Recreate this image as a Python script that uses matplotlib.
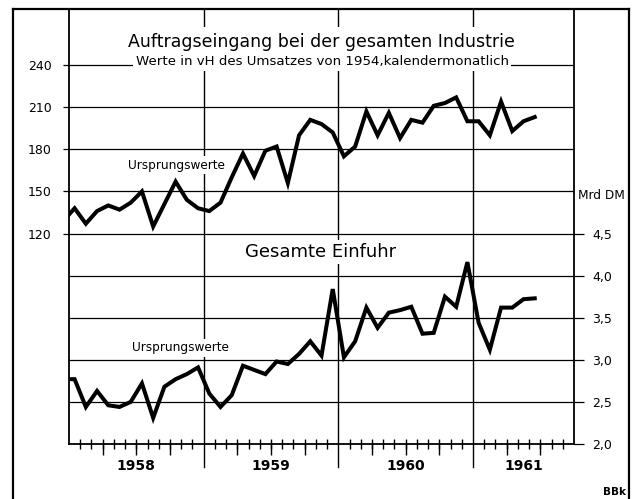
import matplotlib
matplotlib.use("Agg")
import matplotlib.pyplot as plt
from matplotlib.lines import Line2D
import matplotlib.transforms as mtransforms
import numpy as np

# monthly values Dec 1957 .. Jun 1961 (first value only shows as a stub at the axis)
auftrag = [129,
           138, 127, 136, 140, 137, 142, 150, 125, 141, 157, 144, 138,
           136, 142, 160, 177, 161, 179, 182, 156, 190, 201, 198, 192,
           175, 182, 207, 190, 206, 188, 201, 199, 211, 213, 217, 200,
           200, 190, 214, 193, 200, 203]
einfuhr = [2.77,
           2.77, 2.44, 2.63, 2.46, 2.44, 2.50, 2.72, 2.31, 2.68, 2.77, 2.83, 2.91,
           2.60, 2.44, 2.58, 2.93, 2.88, 2.83, 2.98, 2.95, 3.07, 3.22, 3.05, 3.84,
           3.03, 3.22, 3.62, 3.38, 3.56, 3.59, 3.63, 3.31, 3.32, 3.75, 3.63, 4.16,
           3.44, 3.12, 3.62, 3.62, 3.72, 3.73]
years = ["1958", "1959", "1960", "1961"]
left_ticks = [120, 150, 180, 210, 240]
right_ticks = [2.0, 2.5, 3.0, 3.5, 4.0, 4.5]
n_months = 45  # Jan 1958 .. Sep 1961

W, H = 637, 499
plt.rcParams["font.family"] = ["DejaVu Sans"]
fig = plt.figure(figsize=(W / 100, H / 100), dpi=100)


def fx(x):
    return x / W


def fy(y):
    return 1 - y / H


ax = fig.add_axes([fx(69), fy(444), (574 - 69) / W, (444 - 9) / H])
ax2 = ax.twinx()

ax.set_xlim(0, n_months)
ax.set_ylim(-30, 280)
ax2.set_ylim(2.0, 2.0 + 310 / 60)

# grid
for v in left_ticks:
    ax.axhline(v, color="black", lw=0.9, zorder=1)
for v in right_ticks[1:-1]:
    ax2.axhline(v, color="black", lw=0.9, zorder=1)
for i in range(1, len(years)):
    ax.axvline(12 * i, ymin=-23 / 435, ymax=1, color="black", lw=1.0,
               clip_on=False, zorder=1)

# series, plotted at mid-month
x = np.arange(len(auftrag)) - 0.5
ax.plot(x, auftrag, color="black", lw=2.9, solid_joinstyle="miter", zorder=3)
x2 = np.arange(len(einfuhr)) - 0.5
ax2.plot(x2, einfuhr, color="black", lw=2.9, solid_joinstyle="miter", zorder=3)

# axes styling
for s in ax2.spines.values():
    s.set_visible(False)
for s in ax.spines.values():
    s.set_linewidth(1.3)

ax.set_yticks(left_ticks)
ax.set_yticklabels([str(v) for v in left_ticks])
ax.tick_params(axis="y", direction="out", length=4.5, width=0.9, pad=8,
               labelsize=9)

ax2.set_yticks(right_ticks)
ax2.set_yticklabels([f"{v:.1f}".replace(".", ",") for v in right_ticks])
ax2.tick_params(axis="y", direction="out", length=7, width=0.9, pad=6,
                labelsize=9)

month_ticks = [m for m in range(1, n_months) if m % 12 != 0]
quarter_ticks = [m for m in month_ticks if m % 3 == 0]
ax.xaxis.remove_overlapping_locs = False
ax.set_xticks(quarter_ticks)
ax.set_xticklabels([])
ax.set_xticks(month_ticks, minor=True)
ax.tick_params(axis="x", which="major", direction="out", length=8, width=1.0)
ax.tick_params(axis="x", which="minor", direction="inout", length=6.5,
               width=1.0)

trans = mtransforms.blended_transform_factory(ax.transData, ax.transAxes)
for i, yr in enumerate(years):
    end = min(12 * (i + 1), n_months)
    ax.text((12 * i + end) / 2, -22 / 435, yr, transform=trans, ha="center",
            va="center", fontsize=10, fontweight="bold")

# outer frame
fig.add_artist(Line2D([fx(13), fx(13)], [0, fy(9)], color="black", lw=1.6))
fig.add_artist(Line2D([fx(629), fx(629)], [0, fy(9)], color="black", lw=1.6))
fig.add_artist(Line2D([fx(13), fx(629)], [fy(9), fy(9)], color="black", lw=1.6))

box = dict(facecolor="white", edgecolor="none", pad=2)
fig.text(fx(321), fy(42), "Auftragseingang bei der gesamten Industrie",
         ha="center", va="center", fontsize=12.5, bbox=dict(box, pad=4))
fig.text(fx(322), fy(62), "Werte in vH des Umsatzes von 1954,kalendermonatlich",
         ha="center", va="center", fontsize=9.6, bbox=box)
fig.text(fx(176), fy(165), "Ursprungswerte", ha="center", va="center",
         fontsize=8.7, bbox=box)
fig.text(fx(321), fy(252), "Gesamte Einfuhr", ha="center", va="center",
         fontsize=13, bbox=box)
fig.text(fx(180), fy(348), "Ursprungswerte", ha="center", va="center",
         fontsize=8.7, bbox=box)
fig.text(fx(601), fy(195), "Mrd DM", ha="center", va="center", fontsize=8.7)
fig.text(fx(615), fy(492), "BBk", ha="center", va="center", fontsize=7.5,
         fontweight="bold")

fig.savefig("out.png", dpi=100)
